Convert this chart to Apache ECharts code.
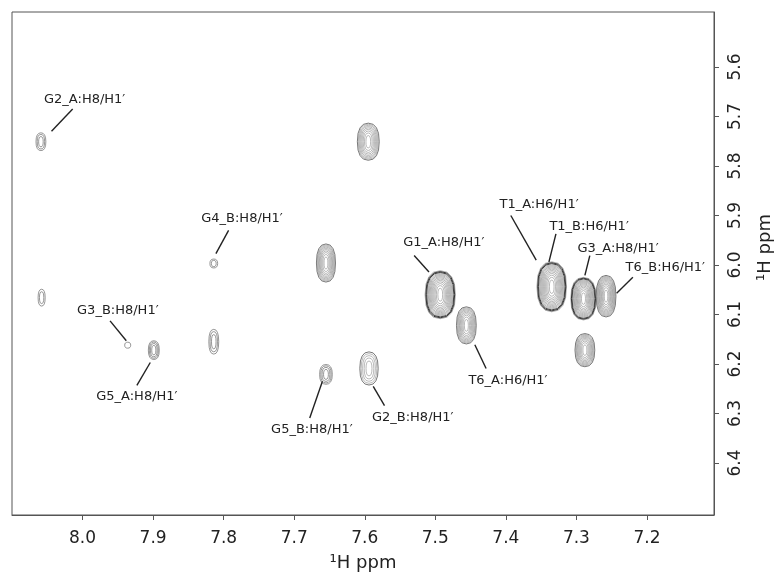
<!DOCTYPE html>
<html>
<head>
<meta charset="utf-8">
<script src="https://cdn.jsdelivr.net/npm/echarts/dist/echarts.min.js"></script>
<style>
html,body{margin:0;padding:0;background:#fff;}
#chart{width:774px;height:573px;}
</style>
</head>
<body>
<div id="chart"></div>
<script>
// ---------- data (ppm) ----------
const xTicks = [8.0, 7.9, 7.8, 7.7, 7.6, 7.5, 7.4, 7.3, 7.2];
const yTicks = [5.6, 5.7, 5.8, 5.9, 6.0, 6.1, 6.2, 6.3, 6.4];

// cross-peak centres (H8/H6 ppm on x, H1' ppm on y)
const peakX = [8.059, 8.058, 7.936, 7.899, 7.814, 7.814, 7.595, 7.655, 7.493, 7.456, 7.655, 7.594, 7.335, 7.290, 7.258, 7.288];
const peakY = [5.751, 6.066, 6.162, 6.172, 5.997, 6.155, 5.751, 5.996, 6.060, 6.122, 6.221, 6.209, 6.044, 6.068, 6.063, 6.172];
// peak footprint (ppm) along x and y at the lowest contour level
const peakWidthX = [0.014, 0.010, 0.0085, 0.0155, 0.011, 0.014, 0.031, 0.027, 0.043, 0.028, 0.018, 0.026, 0.042, 0.036, 0.028, 0.028];
const peakWidthY = [0.036, 0.034, 0.012, 0.038, 0.018, 0.050, 0.075, 0.077, 0.097, 0.075, 0.040, 0.067, 0.101, 0.086, 0.084, 0.067];
// number of contour levels above threshold (relative intensity)
const peakLevels = [3, 2, 1, 4, 2, 3, 9, 10, 14, 10, 4, 5, 14, 14, 12, 10];

// assignments
const annotText = ['G2_A:H8/H1′', 'G4_B:H8/H1′', 'G3_B:H8/H1′', 'G5_A:H8/H1′', 'G5_B:H8/H1′', 'G2_B:H8/H1′',
                   'G1_A:H8/H1′', 'T6_A:H6/H1′', 'T1_A:H6/H1′', 'T1_B:H6/H1′', 'G3_A:H8/H1′', 'T6_B:H6/H1′'];
const annotX = [7.997, 7.774, 7.950, 7.923, 7.675, 7.532, 7.488, 7.397, 7.353, 7.282, 7.241, 7.174];
const annotY = [5.665, 5.906, 6.092, 6.266, 6.332, 6.309, 5.955, 6.233, 5.878, 5.922, 5.966, 6.005];
const leadX1 = [8.014, 7.793, 7.961, 7.904, 7.660, 7.588, 7.530, 7.444, 7.393, 7.329, 7.281, 7.220];
const leadY1 = [5.685, 5.930, 6.113, 6.197, 6.235, 6.245, 5.981, 6.161, 5.900, 5.937, 5.981, 6.025];
const leadX2 = [8.044, 7.811, 7.938, 7.923, 7.678, 7.572, 7.509, 7.428, 7.357, 7.339, 7.288, 7.243];
const leadY2 = [5.730, 5.977, 6.153, 6.243, 6.309, 6.284, 6.014, 6.209, 5.990, 5.994, 6.021, 6.057];

// ---------- build ----------
const FONT = 'DejaVu Sans';
const peakData = peakX.map((x, i) => [x, peakY[i], peakWidthX[i], peakWidthY[i], peakLevels[i]]);
const annotData = annotText.map((t, i) => [annotX[i], annotY[i], leadX1[i], leadY1[i], leadX2[i], leadY2[i]]);

function renderPeak(params, api) {
  const c = api.coord([api.value(0), api.value(1)]);
  const sz = api.size([api.value(2), api.value(3)]);
  const n = api.value(4);
  const strong = n >= 13;
  const children = [];
  const NP = 16, e = 2.4;
  for (let k = 0; k < n; k++) {
    const f = Math.sqrt((n - k) / n);
    const rx = sz[0] / 2 * Math.pow(f, 1.4);
    const ry = sz[1] / 2 * f;
    const pts = [];
    for (let i = 0; i < NP; i++) {
      const t = i / NP * 2 * Math.PI;
      const ct = Math.cos(t), st = Math.sin(t);
      pts.push([c[0] + Math.sign(ct) * Math.pow(Math.abs(ct), 2 / e) * rx,
                c[1] + Math.sign(st) * Math.pow(Math.abs(st), 2 / e) * ry]);
    }
    let stroke, lw;
    if (n <= 4) { stroke = '#6a6a6a'; lw = 0.7; }
    else if (strong) { stroke = k === 0 ? '#7a7a7a' : (k < 3 ? '#262626' : '#8a8a8a'); lw = (k > 0 && k < 3) ? 0.9 : 0.6; }
    else { stroke = k === 0 ? '#555' : '#8c8c8c'; lw = k === 0 ? 0.8 : 0.6; }
    children.push({ type: 'polygon', shape: { points: pts }, style: { fill: 'none', stroke: stroke, lineWidth: lw } });
  }
  return { type: 'group', children: children };
}

function renderAnnot(params, api) {
  const p = api.coord([api.value(0), api.value(1)]);
  const a = api.coord([api.value(2), api.value(3)]);
  const b = api.coord([api.value(4), api.value(5)]);
  return {
    type: 'group',
    children: [
      { type: 'line', shape: { x1: a[0], y1: a[1], x2: b[0], y2: b[1] }, style: { stroke: '#222', lineWidth: 1.4 } },
      { type: 'text', style: { text: annotText[params.dataIndex], x: p[0], y: p[1], align: 'center', verticalAlign: 'middle',
          font: '13px "' + FONT + '"', fill: '#222' } }
    ]
  };
}

const chart = echarts.init(document.getElementById('chart'), null, { renderer: 'canvas' });
chart.setOption({
  animation: false,
  backgroundColor: '#fff',
  grid: { left: 12, right: 60, top: 12, bottom: 58, show: true, borderColor: '#555', borderWidth: 1,
          backgroundColor: 'transparent', containLabel: false, outerBoundsMode: 'none' },
  xAxis: {
    type: 'value', min: 7.105, max: 8.1, inverse: true, position: 'bottom',
    axisLine: { show: true, lineStyle: { color: '#555', width: 1 } },
    axisTick: { show: true, inside: false, length: 5, customValues: xTicks, lineStyle: { color: '#555' } },
    axisLabel: { customValues: xTicks, formatter: v => v.toFixed(1), fontSize: 17, fontFamily: FONT, color: '#222', margin: 15 },
    splitLine: { show: false },
    name: '¹H ppm', nameLocation: 'middle', nameGap: 39,
    nameTextStyle: { fontSize: 18, fontFamily: FONT, color: '#222' }
  },
  yAxis: {
    type: 'value', min: 5.489, max: 6.505, inverse: true, position: 'right',
    axisLine: { show: true, lineStyle: { color: '#555', width: 1 } },
    axisTick: { show: true, inside: false, length: 5, customValues: yTicks, lineStyle: { color: '#555' } },
    axisLabel: { customValues: yTicks, formatter: v => v.toFixed(1), rotate: 90, fontSize: 17, fontFamily: FONT, color: '#222', margin: 13 },
    splitLine: { show: false },
    name: '¹H ppm', nameLocation: 'middle', nameGap: 42,
    nameTextStyle: { fontSize: 18, fontFamily: FONT, color: '#222', padding: [0, 0, 0, 32] }
  },
  series: [
    { type: 'custom', name: 'peaks', renderItem: renderPeak, data: peakData, encode: { x: 0, y: 1 }, clip: true, silent: true },
    { type: 'custom', name: 'labels', renderItem: renderAnnot, data: annotData, encode: { x: 0, y: 1 }, clip: false, silent: true }
  ]
});
</script>
</body>
</html>
